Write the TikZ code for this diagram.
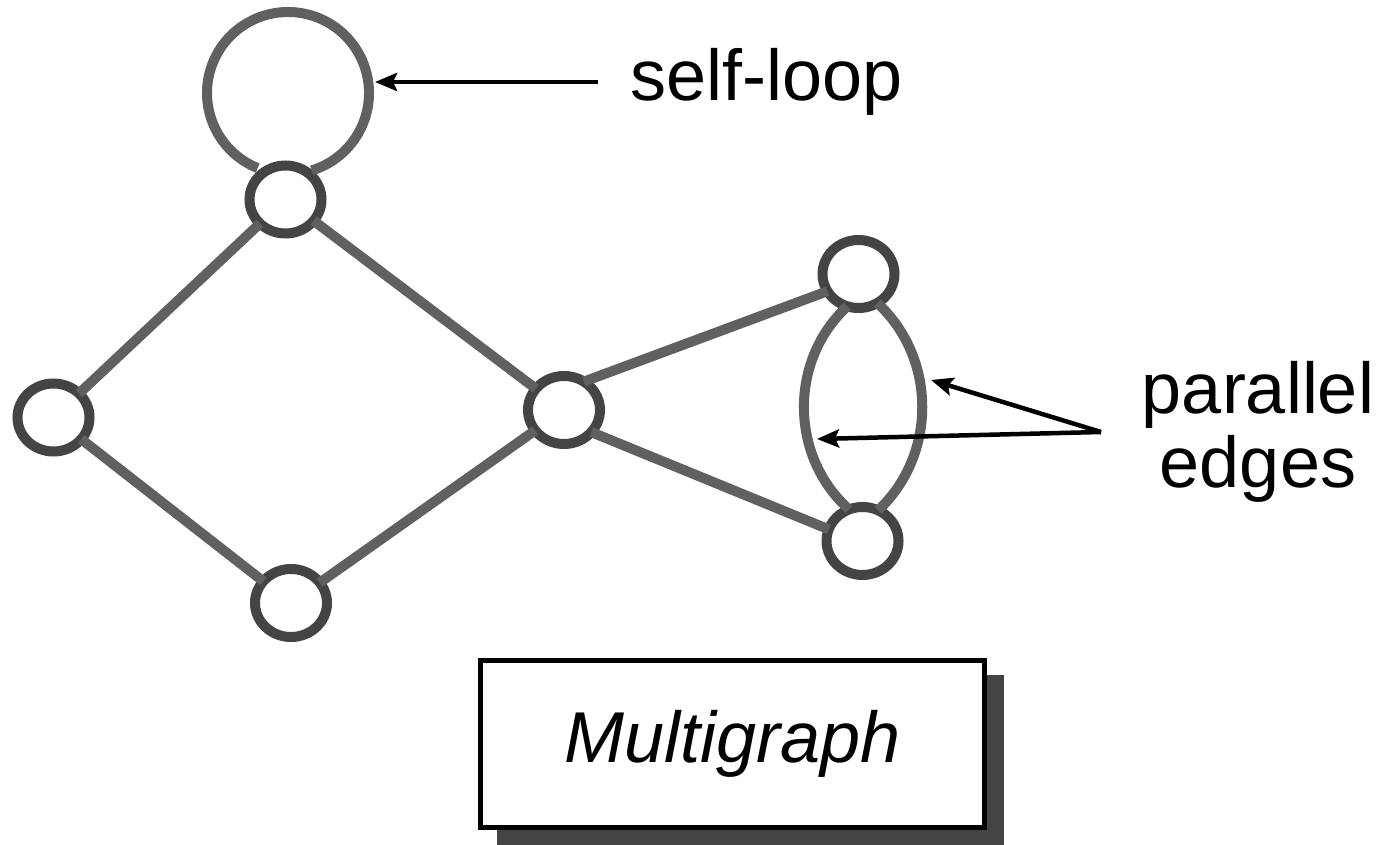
\documentclass[tikz,border=0pt]{standalone}
\usepackage{fontspec}
\setmainfont{Liberation Sans}
\usetikzlibrary{shapes.geometric, arrows.meta}
\definecolor{ringgray}{HTML}{444444}
\definecolor{edgegray}{HTML}{606060}
\definecolor{shadowgray}{HTML}{444444}
\begin{document}
\begin{tikzpicture}[x=1pt, y=-1pt,
  vertex/.style={ellipse, draw=ringgray, line width=10pt, fill=white,
    minimum width=72pt, minimum height=68pt, inner sep=0pt, outer sep=0pt},
  link/.style={draw=edgegray, line width=10pt},
  pointer/.style={draw=black, line width=4.5pt,
    -{Stealth[length=22pt, width=18pt, inset=4pt]}},
  bigtext/.style={font=\fontsize{72}{72}\selectfont, inner sep=0pt},
  titlebox/.style={rectangle, draw=black, line width=5pt, fill=white,
    minimum width=504pt, minimum height=167pt, inner sep=0pt, outer sep=0pt,
    font=\fontsize{72}{72}\selectfont\itshape}]

\useasboundingbox (0,0) rectangle (1379,845);

% vertices
\node[vertex] (A) at (285.5,199.5) {};
\node[vertex] (B) at (53.5,417.5) {};
\node[vertex] (C) at (291,603) {};
\node[vertex] (D) at (564,410) {};
\node[vertex] (E) at (858.5,274) {};
\node[vertex] (F) at (862.5,541) {};

% ordinary edges
\draw[link] (A) -- (B);
\draw[link] (A) -- (D);
\draw[link] (B) -- (C);
\draw[link] (C) -- (D);
\draw[link] (D.55) -- (E.209);
\draw[link] (D.-39) -- (F.161);

% parallel edges between E and F
\draw[link] (E.251) to[bend right=48] (F.113);
\draw[link] (E.303) to[bend left=47] (F.63);

% self-loop on A
\coordinate (loopc) at (288,93);
\draw[link] (loopc) ++(112:81) arc[start angle=112, end angle=433, radius=81];

% annotations
\coordinate (slstart) at (598,82);
\coordinate (sltip) at (375,82);
\draw[pointer] (slstart) -- (sltip);
\node[bigtext, anchor=base west] (sltext) at (630,101) {self-loop};

\coordinate (pestart) at (1101,432);
\coordinate (petipa) at (931,380);
\coordinate (petipb) at (817,439);
\draw[pointer] (pestart) -- (petipa);
\draw[pointer] (pestart) -- (petipb);
\node[bigtext, anchor=base] (petext1) at (1258,413) {parallel};
\node[bigtext, anchor=base] (petext2) at (1258,487) {edges};

% title box with its shadow
\fill[shadowgray] (497,675) rectangle (1004,850);
\node[titlebox] (title) at (732.5,744) {Multigraph};

\end{tikzpicture}
\end{document}
